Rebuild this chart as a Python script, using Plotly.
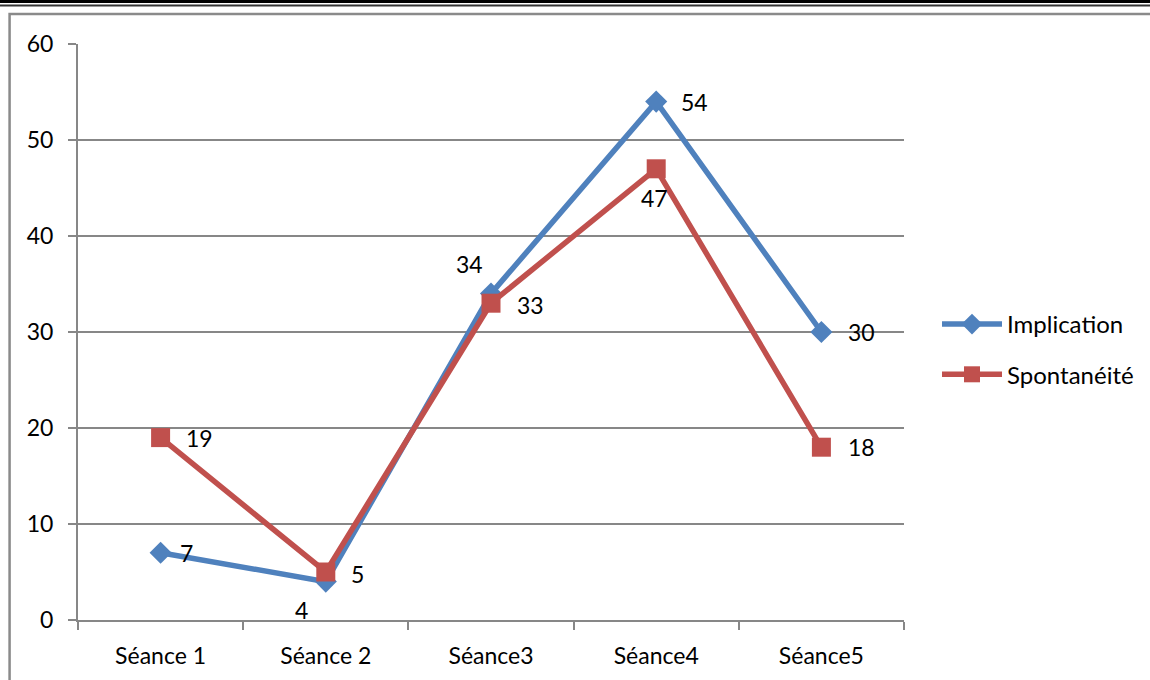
import plotly.graph_objects as go

categories = ["Séance 1", "Séance 2", "Séance3", "Séance4", "Séance5"]
implication = [7, 4, 34, 54, 30]
spontaneite = [19, 5, 33, 47, 18]
y_ticks = [0, 10, 20, 30, 40, 50, 60]

# label offsets (pixels) - style only
impl_off = [(26, 0), (-24, -28), (-22, 30), (38, 0), (40, 0)]
spon_off = [(39, 0), (32, -2), (39, -2), (-2, -29), (40, 0)]

W, H = 1150, 680
L, R, T, B = 78, 905, 44, 620
FONT = "Lato"

BLUE = "#4F81BD"
RED = "#C0504D"
GRID = "#878787"

fig = go.Figure()
fig.add_trace(go.Scatter(
    x=categories, y=implication, name="Implication", mode="lines+markers",
    line=dict(color=BLUE, width=5.5), marker=dict(symbol="diamond", size=17, color=BLUE),
    legendgroup="a"))
fig.add_trace(go.Scatter(
    x=categories, y=spontaneite, name="Spontanéité", mode="lines+markers",
    line=dict(color=RED, width=5.5), marker=dict(symbol="square", size=19, color=RED),
    legendgroup="b"))

ann = []
for c, v, (dx, dy) in zip(categories, implication, impl_off):
    ann.append(dict(x=c, y=v, text=str(v), showarrow=False, xshift=dx, yshift=dy,
                    font=dict(family=FONT, size=23, color="#000")))
for c, v, (dx, dy) in zip(categories, spontaneite, spon_off):
    ann.append(dict(x=c, y=v, text=str(v), showarrow=False, xshift=dx, yshift=dy,
                    font=dict(family=FONT, size=23, color="#000")))

def px(x):
    return (x - L) / (R - L)

def py(y):
    return (B - y) / (B - T)

shapes = [
    dict(type="line", xref="paper", yref="paper", x0=px(-5), x1=px(W + 5), y0=py(1.5), y1=py(1.5),
         line=dict(color="#000", width=3)),
    dict(type="line", xref="paper", yref="paper", x0=px(-5), x1=px(W + 5), y0=py(5.5), y1=py(5.5),
         line=dict(color="#333", width=2)),
    dict(type="rect", xref="paper", yref="paper", x0=px(9.5), x1=px(W + 20), y0=py(14), y1=py(H + 20),
         line=dict(color="#8a8a8a", width=2.5)),
]

fig.update_layout(
    width=W, height=H,
    margin=dict(l=L, r=W - R, t=T, b=H - B),
    paper_bgcolor="white", plot_bgcolor="white",
    font=dict(family=FONT, size=22, color="#000"),
    showlegend=True,
    legend=dict(x=px(937), y=py(302), xanchor="left", yanchor="top",
                font=dict(family=FONT, size=24, color="#000"), tracegroupgap=16,
                itemwidth=60, bgcolor="rgba(0,0,0,0)"),
    annotations=ann, shapes=shapes,
)
fig.update_xaxes(type="category", range=[-0.5, 4.5], showline=True, linecolor=GRID, linewidth=2,
                 ticks="outside", tickson="boundaries", ticklen=8, tickwidth=2, tickcolor=GRID,
                 showgrid=False, ticklabelstandoff=14,
                 tickfont=dict(family=FONT, size=23, color="#000"))
fig.update_yaxes(range=[0, 60], tickvals=y_ticks, showline=True, linecolor=GRID, linewidth=2,
                 ticks="outside", ticklen=8, tickwidth=2, tickcolor=GRID,
                 showgrid=True, gridcolor=GRID, gridwidth=2, zeroline=False,
                 ticklabelstandoff=10,
                 tickfont=dict(family=FONT, size=23, color="#000"))

fig.write_html("out.html")
